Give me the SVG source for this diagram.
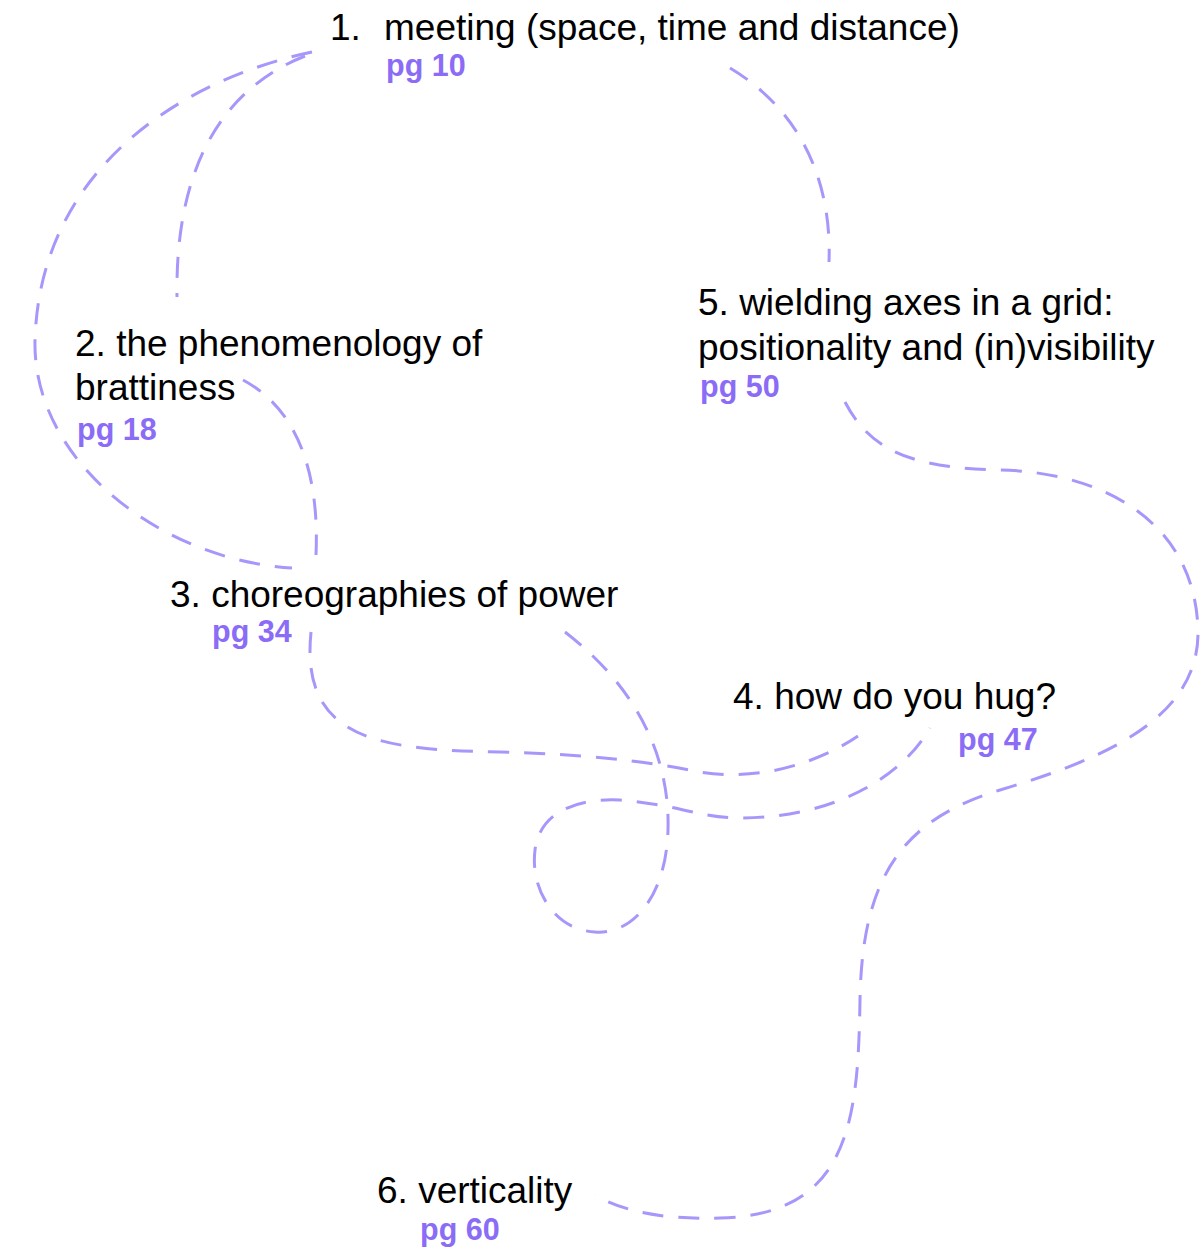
<svg xmlns="http://www.w3.org/2000/svg" width="1204" height="1250" viewBox="0 0 1204 1250">
<style>
.t{font-family:"Liberation Sans",Arial,Helvetica,sans-serif;font-size:37px;fill:#000}
.pg{font-family:"Liberation Sans",Arial,Helvetica,sans-serif;font-size:30.5px;font-weight:bold;fill:#8b6cf6}
.c{fill:none;stroke:#a996fb;stroke-width:3;stroke-dasharray:21 15}
</style>
<rect width="1204" height="1250" fill="#fff"/>
<g id="connectors">
<path class="c" d="M312,52 C180,80 40,170 35,340 C32,460 160,560 292,568"/>
<path class="c" d="M305,56 C220,90 175,170 177,297"/>
<path class="c" d="M730,68 C800,110 832,180 829,262"/>
<path class="c" d="M243,380 C290,405 320,460 316,555"/>
<path class="c" d="M311,632 C300,740 380,750 500,752 C580,754 640,760 700,772 C760,782 820,762 858,736"/>
<path class="c" d="M565,632 C640,690 670,760 668,830 C666,900 630,935 595,932 C555,930 530,890 535,850 C540,810 580,798 620,800 C680,805 700,818 740,818 C830,818 900,780 930,728"/>
<path class="c" d="M845,402 C870,450 910,468 1000,470 C1100,472 1195,520 1198,630 C1200,720 1100,760 1000,790 C900,820 862,880 860,1000 C858,1120 850,1215 720,1218 C660,1220 620,1210 595,1195"/>
</g>
<g id="node1">
<text class="t" y="40"><tspan x="330">1.</tspan><tspan x="384">meeting (space, time and distance)</tspan></text>
<text class="pg" x="386" y="76">pg 10</text>
</g>
<g id="node2">
<text class="t" x="75" y="356">2. the phenomenology of</text>
<text class="t" x="75" y="400">brattiness</text>
<text class="pg" x="77" y="440">pg 18</text>
</g>
<g id="node3">
<text class="t" x="170" y="607">3. choreographies of power</text>
<text class="pg" x="212" y="642">pg 34</text>
</g>
<g id="node4">
<text class="t" x="733" y="709">4. how do you hug?</text>
<text class="pg" x="958" y="750">pg 47</text>
</g>
<g id="node5">
<text class="t" x="698" y="315">5. wielding axes in a grid:</text>
<text class="t" x="698" y="360">positionality and (in)visibility</text>
<text class="pg" x="700" y="397">pg 50</text>
</g>
<g id="node6">
<text class="t" x="377" y="1203">6. verticality</text>
<text class="pg" x="420" y="1240">pg 60</text>
</g>
</svg>
